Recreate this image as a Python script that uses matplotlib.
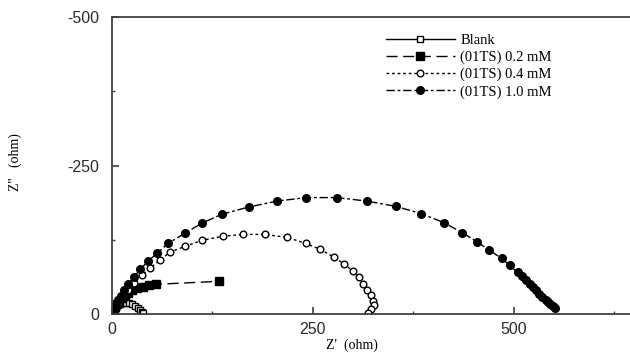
import matplotlib.pyplot as plt

# Nyquist data (Z' , Z'')
blank_x = [0.5, 1, 2, 3, 5, 7, 10, 13, 17, 21, 25, 29, 32, 35, 37, 38.5]
blank_y = [-1, -3, -6, -9, -12, -15, -17, -19, -19, -18, -16, -13, -10, -7, -4, -2]

c02_x = [1, 2, 4, 6, 9, 12, 16, 20, 25, 31, 38, 46, 55, 133]
c02_y = [-2, -6, -11, -16, -22, -27, -32, -36, -40, -43, -46, -48, -50, -55]

c04_x = [1, 2, 5, 9, 14, 20, 28, 37, 47, 60, 72, 91, 112, 138, 163, 190, 218,
         241, 259, 276, 289, 300, 307, 313, 318, 323, 325, 326, 323, 319]
c04_y = [-2, -5, -12, -21, -30, -40, -52, -65, -77, -91, -104, -114, -124, -131,
         -134, -134, -129, -119, -109, -96, -84, -72, -62, -50, -40, -32, -22,
         -15, -9, -2]

c10_x = [1, 3, 5, 8, 11, 15, 20, 27, 35, 45, 56, 70, 91, 112, 137, 170, 205,
         242, 280, 318, 354, 385, 413, 436, 454, 470, 485, 495, 505, 510, 515,
         520, 524, 528, 532, 536, 540, 543, 546, 549, 551]
c10_y = [-3, -8, -15, -23, -31, -40, -50, -62, -75, -89, -102, -119, -136, -153,
         -168, -180, -190, -196, -196, -190, -181, -169, -154, -137, -122, -107,
         -94, -82, -70, -64, -58, -51, -45, -40, -34, -29, -24, -20, -16, -13, -10]

labels = ['Blank', '(01TS) 0.2 mM', '(01TS) 0.4 mM', '(01TS) 1.0 mM']

plt.rcParams['axes.unicode_minus'] = False

fig = plt.figure(figsize=(6.3, 3.53), dpi=100)
ax = fig.add_axes([112 / 630, 1 - 314 / 353, 518 / 630, 297 / 353])

ax.plot(blank_x, blank_y, color='black', lw=1, marker='s', ms=5,
        mfc='white', mec='black', mew=1, label=labels[0])
ax.plot(c02_x, c02_y, color='black', lw=1, dashes=(8, 4), marker='s', ms=5.5,
        mfc='black', mec='black', label=labels[1])
ax.plot(c04_x, c04_y, color='black', lw=1, dashes=(2, 2), marker='o', ms=4.8,
        mfc='white', mec='black', mew=1, label=labels[2])
ax.plot(c10_x, c10_y, color='black', lw=1, dashes=(6, 2, 2, 2), marker='o', ms=5.5,
        mfc='black', mec='black', label=labels[3])

ax.set_xlim(0, 645)
ax.set_ylim(0, -500)
ax.set_xticks([0, 250, 500])
ax.set_xticks([125, 375, 625], minor=True)
ax.set_yticks([0, -250, -500])
ax.set_yticks([-125, -375], minor=True)

for s in ['left', 'bottom', 'top']:
    ax.spines[s].set_color('#404040')
    ax.spines[s].set_linewidth(1.3)
ax.spines['right'].set_visible(False)

ax.tick_params(which='major', direction='in', length=5, width=1.2, color='#404040',
               labelsize=11.5, labelcolor='#2a2a2a')
ax.tick_params(which='minor', direction='in', length=2, width=1, color='#404040')
ax.tick_params(axis='y', pad=9)
ax.tick_params(axis='x', pad=6)
for t in ax.get_xticklabels() + ax.get_yticklabels():
    t.set_fontfamily('Liberation Sans')

fig.text(352 / 630, 1 - 345 / 353, "Z'  (ohm)", family='Liberation Serif',
         fontsize=10, ha='center', va='center')
fig.text(15 / 630, 1 - 162 / 353, "Z''   (ohm)", family='Liberation Serif',
         fontsize=10, ha='center', va='center', rotation=90)

ax.legend(loc='upper left', bbox_to_anchor=(386 / 630, 1 - 34 / 353),
          bbox_transform=fig.transFigure, frameon=False, borderpad=0,
          borderaxespad=0, handlelength=4.7, handletextpad=0.4,
          labelspacing=0.25, prop={'family': 'Liberation Serif', 'size': 10.5})

fig.savefig('out.png', dpi=100)
